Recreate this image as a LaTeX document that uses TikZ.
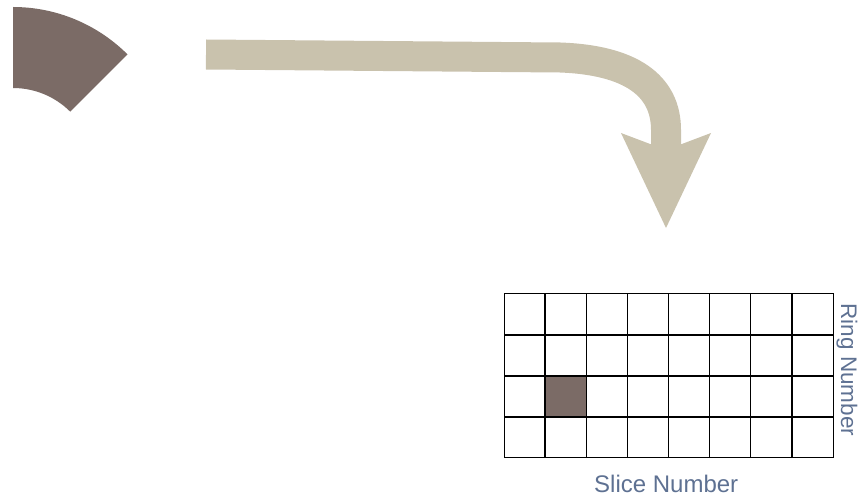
\documentclass[tikz,border=0pt]{standalone}
\usepackage{fontspec}
\setmainfont{Liberation Sans}
\usetikzlibrary{arrows.meta,positioning}
\definecolor{sector}{HTML}{7B6B66}
\definecolor{sweep}{HTML}{C9C2AD}
\definecolor{caption}{HTML}{5E7192}
\tikzset{
  cellgrid/.style={draw=black, line width=1.4pt},
  hitcell/.style={fill=sector},
  sweeparrow/.style={draw=sweep, line width=30pt, -{Stealth[length=95pt,width=90pt,inset=17pt,line width=0pt]}},
  axislabel/.style={text=caption, font=\fontsize{24}{28}\selectfont, inner sep=0pt}
}
\begin{document}
\begin{tikzpicture}[x=1pt,y=1pt]
  \useasboundingbox (0,0) rectangle (866,496);
  % detector sector
  \coordinate (hub) at (13,327);
  \fill[sector] ([shift={(90:162)}]hub) arc[start angle=90,end angle=45,radius=162]
    -- ([shift={(45:81)}]hub) arc[start angle=45,end angle=90,radius=81] -- cycle;
  % unrolling arrow
  \coordinate (from) at (206,441.5);
  \coordinate (to) at (666,268);
  \draw[sweeparrow] (from) -- (560,438.5) .. controls (630,436) and (666,411) .. (666,366) -- (to);
  % readout grid
  \fill[hitcell] (545.125,79) rectangle (586.25,120);
  \foreach \i in {1,...,7}
    \draw[cellgrid] (504+\i*41.125,38) -- (504+\i*41.125,202);
  \foreach \j in {1,2,3}
    \draw[cellgrid] (504,38+\j*41) -- (833,38+\j*41);
  \node[cellgrid, minimum width=329pt, minimum height=164pt, inner sep=0pt, anchor=south west] (grid) at (504,38) {};
  \node[axislabel, below=17pt of grid, xshift=-3pt] (slice) {Slice Number};
  \node[axislabel, font=\fontsize{22.5}{26}\selectfont, rotate=-90] (ring) at (847,126) {Ring Number};
\end{tikzpicture}
\end{document}
